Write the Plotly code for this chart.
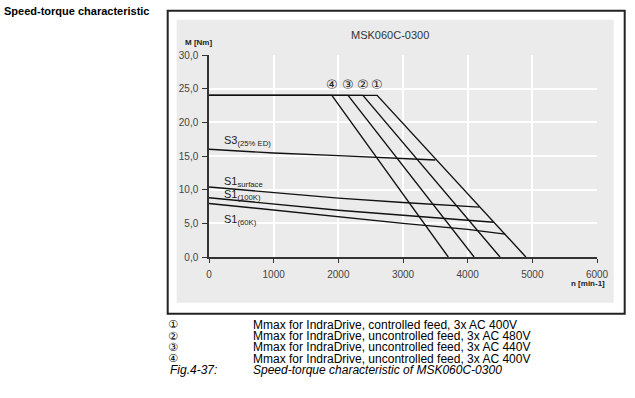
import plotly.graph_objects as go

# ---------------- data ----------------
mmax_labels = ["①", "②", "③", "④"]
mmax_corner_speed = [2600, 2380, 2150, 1900]
mmax_end_speed = [4900, 4500, 4100, 3700]
mmax_torque = 24.0

s3_speed = [0, 1000, 2000, 3000, 3500]
s3_torque = [16.0, 15.45, 15.05, 14.6, 14.4]

s1surf_speed = [0, 1000, 2000, 3000, 4180]
s1surf_torque = [10.4, 9.55, 8.75, 8.1, 7.4]

s1_100k_speed = [0, 1000, 2000, 3000, 4400]
s1_100k_torque = [8.8, 7.85, 6.95, 6.2, 5.15]

s1_60k_speed = [0, 1000, 2000, 3000, 4000, 4580]
s1_60k_torque = [7.95, 6.95, 5.95, 5.0, 4.1, 3.4]

x_ticks = [0, 1000, 2000, 3000, 4000, 5000, 6000]
x_ticktext = ["0", "1000", "2000", "3000", "4000", "5000", "6000"]
y_ticks = [0, 5, 10, 15, 20, 25, 30]
y_ticktext = ["0,0", "5,0", "10,0", "15,0", "20,0", "25,0", "30,0"]

legend_lines = [
    "Mmax for IndraDrive, controlled feed, 3x AC 400V",
    "Mmax for IndraDrive, uncontrolled feed, 3x AC 480V",
    "Mmax for IndraDrive, uncontrolled feed, 3x AC 440V",
    "Mmax for IndraDrive, uncontrolled feed, 3x AC 400V",
]

# ---------------- layout geometry (pixels) ----------------
FW, FH = 635, 398
L, R, T, B = 209.3, 597.3, 55.3, 257.3
PW, PH = R - L, B - T


def px(x):
    return (x - L) / PW


def py(y):
    return (B - y) / PH


FONT = "Liberation Sans, Arial, sans-serif"
CIRC = "DejaVu Sans, Noto Sans CJK JP, sans-serif"

fig = go.Figure()

line_style = dict(color="#111111", width=1.4)

for lab, c, e in zip(mmax_labels, mmax_corner_speed, mmax_end_speed):
    fig.add_trace(go.Scatter(x=[0, c, e], y=[mmax_torque, mmax_torque, 0],
                             mode="lines", line=line_style, name=lab,
                             hoverinfo="x+y"))
    fig.add_annotation(x=c, y=mmax_torque, text=lab, showarrow=False,
                       yshift=11, xanchor="center", yanchor="middle",
                       font=dict(family=CIRC, size=13, color="#222"))

for sx, sy in [(s3_speed, s3_torque), (s1surf_speed, s1surf_torque),
               (s1_100k_speed, s1_100k_torque), (s1_60k_speed, s1_60k_torque)]:
    fig.add_trace(go.Scatter(x=sx, y=sy, mode="lines", line=line_style,
                             hoverinfo="x+y"))

curve_labels = [
    ("S3<sub>(25% ED)</sub>", 17.2),
    ("S1<sub>surface</sub>", 11.1),
    ("S1<sub>(100K)</sub>", 9.25),
    ("S1<sub>(60K)</sub>", 5.55),
]
for txt, yv in curve_labels:
    fig.add_annotation(x=200, y=yv, text=txt, showarrow=False,
                       xanchor="left", yanchor="middle",
                       font=dict(family=FONT, size=11, color="#222"))

# frame and panel
shapes = [
    dict(type="rect", xref="paper", yref="paper",
         x0=px(177), x1=px(614), y0=py(303), y1=py(20),
         fillcolor="#ebebeb", line=dict(width=0), layer="below"),
    dict(type="rect", xref="paper", yref="paper",
         x0=px(168), x1=px(625), y0=py(314), y1=py(11),
         fillcolor="rgba(0,0,0,0)", line=dict(color="#222", width=2),
         layer="below"),
]

annotations_paper = [
    dict(x=px(390), y=py(35), text="MSK060C-0300",
         font=dict(family=FONT, size=11, color="#333")),
    dict(x=px(199), y=py(43), text="<b>M [Nm]</b>",
         font=dict(family=FONT, size=8, color="#222")),
    dict(x=px(607), y=py(284), text="<b>n [min-1]</b>", xanchor="right",
         font=dict(family=FONT, size=8, color="#222")),
    dict(x=px(2), y=py(11), text="<b>Speed-torque characteristic</b>", xanchor="left",
         font=dict(family=FONT, size=11, color="#000")),
]
leg_y = [325, 336.3, 347.6, 358.9]
for lab, txt, yy in zip(mmax_labels, legend_lines, leg_y):
    annotations_paper.append(dict(x=px(173), y=py(yy), text=lab,
                                  font=dict(family=CIRC, size=11, color="#000")))
    annotations_paper.append(dict(x=px(251), y=py(yy), text=txt, xanchor="left",
                                  font=dict(family=FONT, size=12, color="#000")))
annotations_paper.append(dict(x=px(168), y=py(370.2), text="<i>Fig.4-37:</i>", xanchor="left",
                              font=dict(family=FONT, size=12, color="#000")))
annotations_paper.append(dict(x=px(251), y=py(370.2),
                              text="<i>Speed-torque characteristic of MSK060C-0300</i>",
                              xanchor="left",
                              font=dict(family=FONT, size=12, color="#000")))
for a in annotations_paper:
    a.setdefault("xanchor", "center")
    a.update(xref="paper", yref="paper", showarrow=False, yanchor="middle")
    fig.add_annotation(**a)

fig.update_layout(
    width=FW, height=FH,
    margin=dict(l=L, r=FW - R, t=T, b=FH - B, pad=0),
    paper_bgcolor="white", plot_bgcolor="#ebebeb",
    showlegend=False,
    shapes=shapes,
    font=dict(family=FONT, size=10, color="#444"),
)
fig.update_xaxes(range=[0, 6000], tickvals=x_ticks, ticktext=x_ticktext,
                 showgrid=True, gridcolor="white", gridwidth=1.5,
                 showline=True, linecolor="#333", linewidth=1.5,
                 ticks="outside", ticklen=4, tickcolor="#333", tickwidth=1.2,
                 ticklabelstandoff=3,
                 zeroline=False, tickfont=dict(size=10, color="#444"))
fig.update_yaxes(range=[0, 30], tickvals=y_ticks, ticktext=y_ticktext,
                 showgrid=True, gridcolor="white", gridwidth=1.5,
                 showline=True, linecolor="#333", linewidth=1.5,
                 ticks="outside", ticklen=5, tickcolor="#333", tickwidth=1.2,
                 ticklabelstandoff=2,
                 zeroline=False, tickfont=dict(size=10, color="#444"))

fig.write_html("out.html", config={"displayModeBar": False},
               post_script="document.body.style.margin='0';document.body.style.padding='0';")
